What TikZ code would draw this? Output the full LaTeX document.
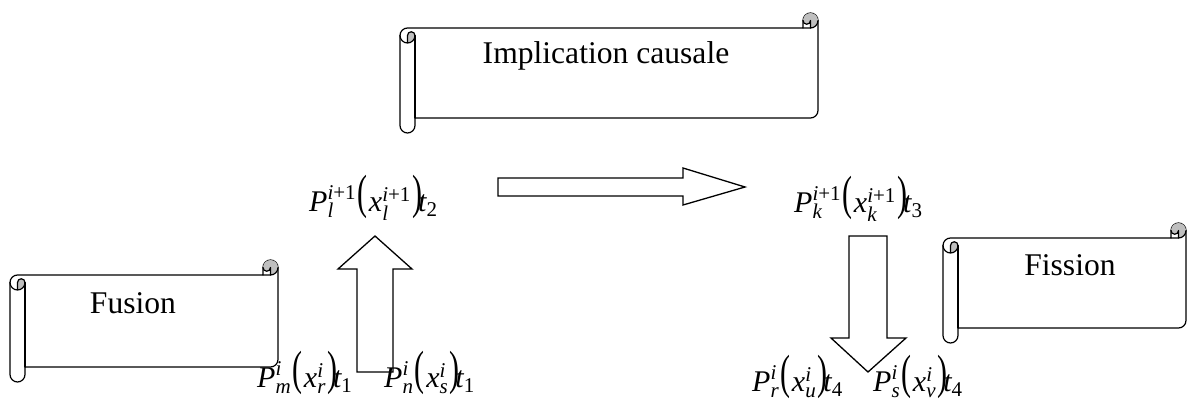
\documentclass[tikz,border=0pt]{standalone}
\usepackage{amsmath}
\usepackage{graphicx}
\usepackage{fontspec}
\setmainfont{Liberation Serif}
\definecolor{scrollgrey}{gray}{0.75}
\tikzset{
  scrollline/.style={line width=1.2pt, line join=round, line cap=round},
  blockarrow/.style={draw, line width=1.3pt, fill=white, line join=miter},
  lbl/.style={inner sep=0pt, anchor=base, font=\fontsize{31.6pt}{38pt}\selectfont},
  frm/.style={inner sep=0pt, anchor=base west, font=\fontsize{30pt}{36pt}\selectfont},
}
% horizontal scroll: #1 left, #2 top, #3 width, #4 height (ch = 15)
\newcommand\hscroll[4]{%
\begin{scope}[shift={(#1,#2)}]
\pgfmathsetmacro\scW{#3}\pgfmathsetmacro\scH{#4}
\draw[scrollline, fill=white] (0,22.5) arc[start angle=180, delta angle=90, radius=7.5pt]
  -- ({\scW-15},15) -- ({\scW-15},7.5) arc[start angle=180, delta angle=180, radius=7.5pt]
  -- (\scW,{\scH-22.5}) arc[start angle=0, delta angle=90, radius=7.5pt]
  -- (15,{\scH-15}) -- (15,{\scH-7.5}) arc[start angle=0, delta angle=180, radius=7.5pt] -- cycle;
\fill[scrollgrey] (7.5,30) arc[start angle=90, delta angle=-90, radius=7.5pt]
  arc[start angle=0, delta angle=-180, radius=3.75pt] -- cycle;
\fill[scrollgrey] ({\scW-7.5},15) arc[start angle=90, delta angle=-270, radius=7.5pt]
  arc[start angle=180, delta angle=-180, radius=3.75pt] -- cycle;
\draw[scrollline] ({\scW-15},15) -- ({\scW-7.5},15) arc[start angle=90, delta angle=-90, radius=7.5pt];
\draw[scrollline] ({\scW-7.5},15) -- ({\scW-7.5},7.5) arc[start angle=0, delta angle=180, radius=3.75pt];
\draw[scrollline] (7.5,30) -- (7.5,22.5) arc[start angle=180, delta angle=180, radius=3.75pt]
  arc[start angle=0, delta angle=180, radius=7.5pt];
\draw[scrollline] (15,22.5) -- (15,{\scH-15});
\end{scope}}
\newcommand\bigp[1]{\raisebox{0.1em}{\scalebox{1}[1.6]{#1}}}
\newcommand\pform[5]{$\textit{P}^{#1}_{\textit{#2}}\mkern1mu\mathopen{\bigp{(}}\mkern1mu\textit{x}^{#3}_{\textit{#4}}\mkern1mu\mathclose{\bigp{)}}\mkern-3mu\textit{t}_{\text{#5}}$}
\newcommand\ipo{\text{\itshape i\upshape +1}}
\newcommand\ii{\text{\itshape i}}
\begin{document}
\begin{tikzpicture}[x=1pt, y=1pt, yscale=-1]
\useasboundingbox (0,0) rectangle (1187,407);
% scrolls
\hscroll{400}{13}{418}{120}
\node[lbl] (implic) at (606,63) {Implication causale};
\hscroll{10}{260}{268}{122}
\node[lbl] (fusion) at (133,313) {Fusion};
\hscroll{943}{223}{243}{120}
\node[lbl] (fission) at (1070,275) {Fission};
% block arrows
\draw[blockarrow] (498,178) -- (683,178) -- (683,168) -- (745,187) -- (683,205) -- (683,196) -- (498,196) -- cycle;
\draw[blockarrow] (357,372) -- (357,269) -- (338,269) -- (375,236) -- (412,269) -- (393,269) -- (393,372) -- cycle;
\draw[blockarrow] (849,236) -- (887,236) -- (887,338) -- (906,338) -- (868,372) -- (831,338) -- (849,338) -- cycle;
% formulas
\node[frm] (pl) at (309,211) {\pform{\ipo}{l}{\ipo}{l}{2}};
\node[frm] (pk) at (794,212) {\pform{\ipo}{k}{\ipo}{k}{3}};
\node[frm] (pm) at (257,387) {\pform{\ii}{m}{\ii}{r}{1}};
\node[frm] (pn) at (384,387) {\pform{\ii}{n}{\ii}{s}{1}};
\node[frm] (pr) at (752,391) {\pform{\ii}{r}{\ii}{u}{4}};
\node[frm] (ps) at (873,391) {\pform{\ii}{s}{\ii}{v}{4}};
\end{tikzpicture}
\end{document}
